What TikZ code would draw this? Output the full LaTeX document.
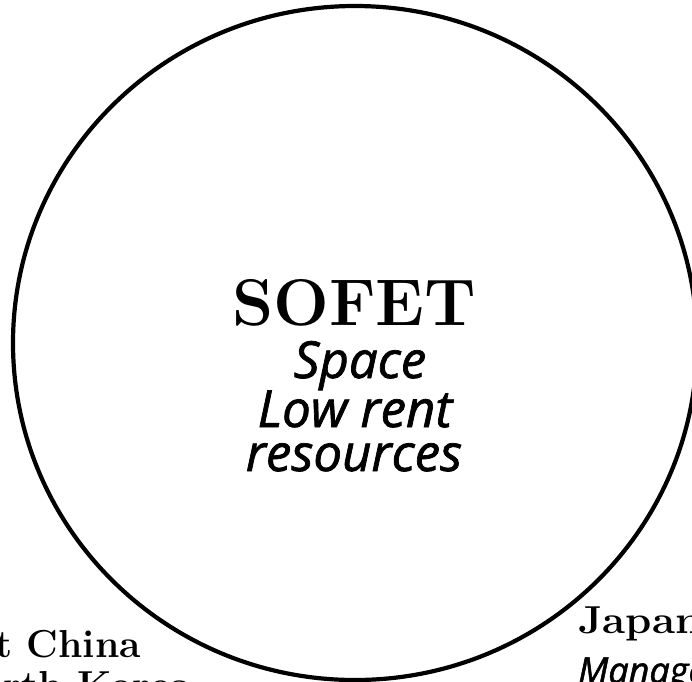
\documentclass[tikz,border=0pt]{standalone}
\usepackage{fontspec}
\usetikzlibrary{shapes.geometric}
\newfontfamily\sansit[ItalicFeatures={FakeBold=1.4}]{Open Sans}
\tikzset{
  ring/.style={draw, ellipse, line width=4.2pt, inner sep=0pt, minimum width=684pt, minimum height=674pt},
  bigserif/.style={inner sep=0pt, font=\fontsize{66pt}{66pt}\selectfont\bfseries},
  itbig/.style={inner sep=0pt, font=\fontsize{51pt}{51pt}\selectfont\sansit\itshape},
  sideserif/.style={inner sep=0pt, font=\fontsize{39pt}{39pt}\selectfont\bfseries},
  itside/.style={inner sep=0pt, font=\fontsize{36pt}{36pt}\selectfont\sansit\itshape}
}
\begin{document}
\begin{tikzpicture}[x=1pt,y=-1pt]
\useasboundingbox (0,0) rectangle (692,681);
\clip (0,0) rectangle (692,681);
\node[ring] (soc) at (355,343) {};
\node[bigserif, anchor=base] (sofet) at (354,325) {SOFET};
\node[itbig, anchor=base, text depth=10pt] (space) at (360,378) {Space};
\node[itbig, anchor=base, text height=35pt, text depth=0pt] (lowrent) at (355,427) {Low rent};
\node[itbig, anchor=base, text height=28pt, text depth=0pt] (res) at (354,471) {resources};
\node[sideserif, anchor=base east] (china) at (141,657) {Northeast China};
\node[sideserif, anchor=base east] (korea) at (192,698) {North Korea};
\node[sideserif, anchor=base west, xscale=1.08] (japan) at (578,633) {Japan};
\node[itside, anchor=base west] (mgmt) at (578,683) {Management};
\end{tikzpicture}
\end{document}
